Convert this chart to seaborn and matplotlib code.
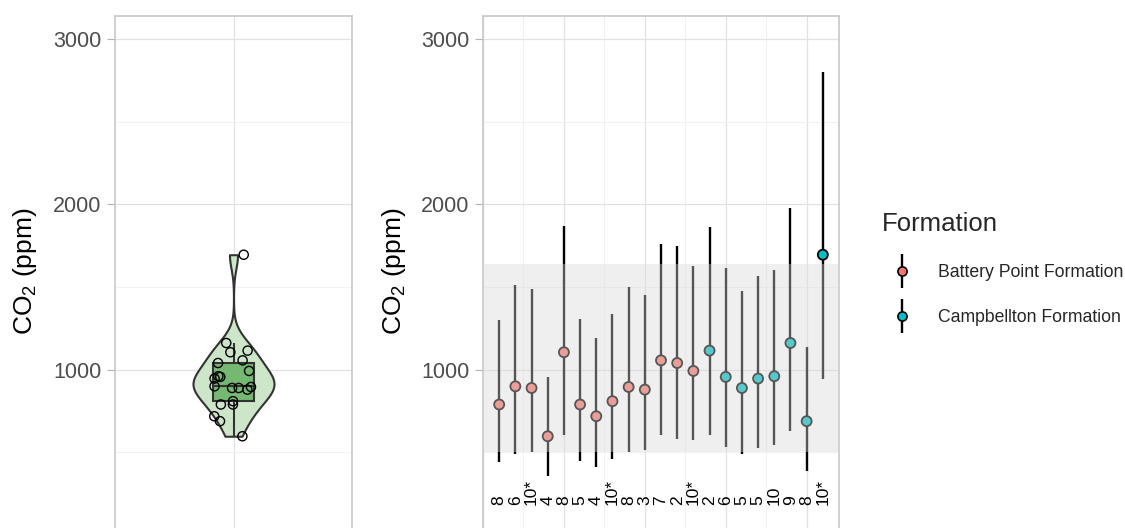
import numpy as np
import pandas as pd
import matplotlib
matplotlib.use("Agg")
import matplotlib.pyplot as plt
from matplotlib.lines import Line2D
from matplotlib.ticker import MultipleLocator, FixedLocator
from matplotlib.legend_handler import HandlerTuple
import seaborn as sns

# CO2 estimates per sample (ppm): median with lower / upper bounds
sample = list(range(1, 22))
co2_median = [789, 899, 889, 597, 1105, 789, 718, 809, 895, 879, 1056, 1040, 992,
              1115, 956, 889, 946, 960, 1161, 688, 1695]
co2_low = [440, 492, 500, 355, 603, 446, 412, 460, 502, 511, 603, 581, 577,
           603, 533, 492, 527, 541, 627, 384, 944]
co2_high = [1302, 1514, 1487, 956, 1870, 1306, 1191, 1338, 1500, 1453, 1761, 1745, 1624,
            1862, 1614, 1473, 1568, 1600, 1977, 1137, 2803]
n_labels = ["8", "6", "10*", "4", "8", "5", "4", "10*", "8", "3", "7", "2", "10*",
            "2", "6", "5", "5", "10", "9", "8", "10*"]
formation = ["Battery Point Formation", "Battery Point Formation", "Battery Point Formation",
             "Battery Point Formation", "Battery Point Formation", "Battery Point Formation",
             "Battery Point Formation", "Battery Point Formation", "Battery Point Formation",
             "Battery Point Formation", "Battery Point Formation", "Battery Point Formation",
             "Battery Point Formation",
             "Campbellton Formation", "Campbellton Formation", "Campbellton Formation",
             "Campbellton Formation", "Campbellton Formation", "Campbellton Formation",
             "Campbellton Formation", "Campbellton Formation"]
formation_levels = ["Battery Point Formation", "Campbellton Formation"]
formation_colors = ["#F8766D", "#00BFC4"]

# y-axis breaks (ppm)
y_major = [1000, 2000, 3000]
y_minor = [500, 1500, 2500]

# shaded reference range (ppm)
band_low, band_high = 500, 1640

df = pd.DataFrame({"sample": sample, "median": co2_median, "low": co2_low,
                   "high": co2_high, "n": n_labels, "formation": formation})

sns.set_style("white")
plt.rcParams["font.family"] = ["Liberation Sans", "DejaVu Sans"]
plt.rcParams["mathtext.fontset"] = "custom"
plt.rcParams["mathtext.rm"] = "Liberation Sans"

W, H = 1125, 528
fig = plt.figure(figsize=(W / 100, H / 100), dpi=100)
ax1 = fig.add_axes([115 / W, -40 / H, 237 / W, 552 / H])
ax2 = fig.add_axes([483 / W, -40 / H, 356 / W, 552 / H])

grid_major = "#e2e2e2"
grid_minor = "#efefef"
frame = "#c4c4c4"
ylim = (-200, 3139)
ylabel = "CO$_\\mathregular{2}$ (ppm)"

# ---- left: distribution of the sample medians ----
sns.violinplot(y=df["median"], ax=ax1, width=0.41, cut=0, bw_method=0.376, inner=None,
               color="#cde6ca", linecolor="#333333", linewidth=1.5, saturation=1)
sns.boxplot(y=df["median"], ax=ax1, width=0.21, color="#74b871", linecolor="#333333",
            linewidth=1.5, saturation=1, showfliers=False, whis=1.5,
            capprops={"visible": False})
np.random.seed(11)
sns.stripplot(y=df["median"], ax=ax1, jitter=0.1, size=6.6, color="white", linewidth=1)
pts = ax1.collections[-1]
pts.set_facecolor("none")
pts.set_edgecolor("black")
pts.set_linewidth(1.0)
pts.set_zorder(4)

ax1.set_xlim(-0.6, 0.6)
ax1.set_xticks([0])

# ---- right: per-sample ranges ----
ax2.vlines(df["sample"], df["low"], df["high"], color="black", lw=1.7, zorder=2)
sns.scatterplot(data=df, x="sample", y="median", hue="formation",
                hue_order=formation_levels, palette=formation_colors, s=52,
                edgecolor="black", linewidth=1.3, legend=False, ax=ax2, zorder=3)
ax2.axhspan(band_low, band_high, facecolor="#d9d9d9", alpha=0.4, lw=0, zorder=5)
for xv, lab in zip(df["sample"], df["n"]):
    ax2.text(xv, 180, lab, rotation=90, ha="center", va="bottom", fontsize=12.5,
             color="black", zorder=6)
ax2.set_xlim(0, 22)
ax2.xaxis.set_major_locator(MultipleLocator(5))
ax2.xaxis.set_minor_locator(MultipleLocator(2.5))

for ax, lx in ((ax1, -0.321), (ax2, -0.2107)):
    ax.set_ylim(*ylim)
    ax.yaxis.set_major_locator(FixedLocator(y_major))
    ax.yaxis.set_minor_locator(FixedLocator(y_minor))
    ax.set_axisbelow(True)
    ax.grid(which="major", color=grid_major, lw=0.9)
    ax.grid(which="minor", color=grid_minor, lw=0.6)
    ax.xaxis.grid(True, which="major", color=grid_major, lw=0.9)
    for sp in ax.spines.values():
        sp.set_visible(True)
        sp.set_color(frame)
        sp.set_linewidth(1.1)
    ax.tick_params(axis="y", which="major", length=5.5, width=0.8, color="#b3b3b3",
                   pad=4.3, labelsize=15.5, labelcolor="#4d4d4d", left=True)
    ax.tick_params(which="minor", length=0)
    ax.tick_params(axis="x", which="both", length=0, labelbottom=False)
    ax.set_xlabel("")
    ax.set_ylabel(ylabel, fontsize=19, color="black")
    ax.yaxis.set_label_coords(lx, 0.538)

ax2.xaxis.grid(True, which="minor", color=grid_minor, lw=0.6)

# ---- legend ----
vbar = Line2D([], [], color="black", marker="|", markersize=25, mew=1.7, linestyle="none")
keys = []
for c in formation_colors:
    dot = Line2D([], [], marker="o", markersize=6.6, markerfacecolor=c,
                 markeredgecolor="black", mew=1.2, linestyle="none")
    keys.append((vbar, dot))
fig.legend(handles=keys, labels=formation_levels,
           handler_map={tuple: HandlerTuple(ndivide=1, pad=0)},
           loc="upper left", bbox_to_anchor=(882 / W, 1 - 212 / H),
           frameon=False, title="Formation", title_fontsize=18.5, fontsize=12.7,
           handlelength=2.3, handletextpad=0.9, labelspacing=1.6,
           borderpad=0, borderaxespad=0, alignment="left")

fig.savefig("out.png", dpi=100)
